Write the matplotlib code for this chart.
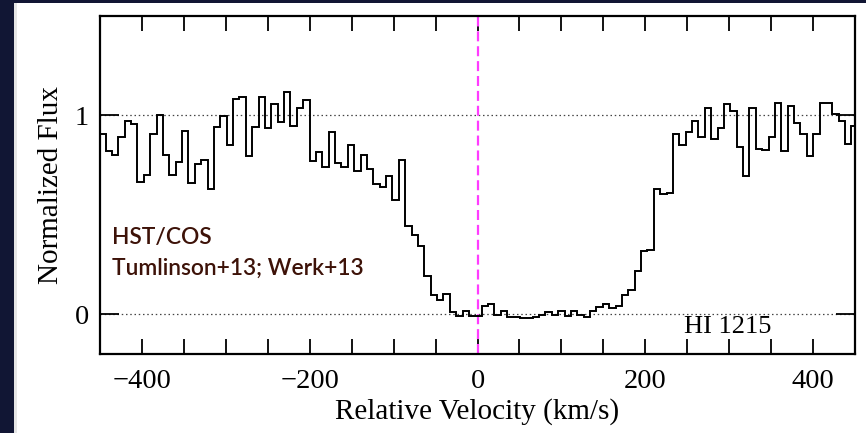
import numpy as np
import matplotlib
matplotlib.use("Agg")
import matplotlib.pyplot as plt
from matplotlib.patches import Rectangle
from matplotlib.ticker import MultipleLocator, FixedLocator

# HI 1215 absorption profile (normalized flux per velocity bin)
bin_start = -451.0     # km/s, left edge of first bin
bin_width = 7.6        # km/s
flux = [
    0.905, 0.821, 0.803, 0.892, 0.972, 0.958, 0.667, 0.702, 0.906, 1.002,
    0.801, 0.700, 0.766, 0.924, 0.661, 0.758, 0.778, 0.630, 0.944, 0.997,
    0.851, 1.082, 1.095, 0.796, 0.944, 1.095, 0.935, 1.056, 0.966, 1.116,
    0.947, 1.036, 1.078, 0.772, 0.816, 0.741, 0.918, 0.760, 0.741, 0.853,
    0.721, 0.802, 0.730, 0.654, 0.642, 0.697, 0.576, 0.777, 0.442, 0.401,
    0.344, 0.194, 0.097, 0.072, 0.100, 0.011, -0.010, 0.014, -0.010, -0.010,
    0.042, 0.050, -0.002, 0.015, -0.013, -0.013, -0.017, -0.017, -0.013, -0.005,
    0.012, -0.002, 0.015, -0.010, 0.015, -0.002, -0.013, 0.015, 0.037, 0.049,
    0.029, 0.042, 0.097, 0.122, 0.216, 0.317, 0.323, 0.629, 0.605, 0.608,
    0.908, 0.852, 0.919, 0.972, 0.889, 1.038, 0.879, 0.937, 1.056, 1.021,
    0.842, 0.697, 1.038, 0.833, 0.825, 0.892, 1.061, 0.822, 1.045, 0.961,
    0.904, 0.797, 0.904, 1.061, 1.061, 1.008, 0.971, 0.856, 0.947,
]

x_major_ticks = [-400, -200, 0, 200, 400]
x_tick_labels = ["\u2212400", "\u2212200", "0", "200", "400"]
y_ticks = [0, 1]
y_tick_labels = ["0", "1"]
line_label = "HI 1215"
source_lines = ["HST/COS", "Tumlinson+13; Werk+13"]

edges = bin_start + bin_width * np.arange(len(flux) + 1)

plt.rcParams["font.family"] = ["Liberation Serif", "DejaVu Serif"]

fig = plt.figure(figsize=(8.66, 4.33), dpi=100)
fig.patch.set_facecolor("white")

# dark slide frame along the left and top edges, with a faint shadow
navy = "#111634"
fig.patches.append(Rectangle((0, 0), 14 / 866, 1, transform=fig.transFigure,
                             facecolor=navy, edgecolor="none", zorder=0))
fig.patches.append(Rectangle((0, 1 - 3 / 433), 1, 3 / 433, transform=fig.transFigure,
                             facecolor=navy, edgecolor="none", zorder=0))
fig.patches.append(Rectangle((14 / 866, 0), 2.5 / 866, 1 - 3 / 433, transform=fig.transFigure,
                             facecolor="#e6e6e6", edgecolor="none", zorder=0))

ax = fig.add_axes([100 / 866, 1 - 354 / 433, 755 / 866, 338 / 433])

ax.stairs(flux, edges, color="black", linewidth=1.4, zorder=3)

# reference levels and line centre
for lev in (0, 1):
    ax.axhline(lev, color="#444444", linewidth=0.9, linestyle=(0, (1.2, 2.2)), zorder=1)
ax.axvline(0, color="#ff3cff", linewidth=1.6, linestyle=(0, (4.5, 2.2)), zorder=2)

ax.set_xlim(-450, 450)
ax.set_ylim(-0.2, 1.5)

ax.xaxis.set_major_locator(FixedLocator(x_major_ticks))
ax.xaxis.set_minor_locator(MultipleLocator(50))
ax.yaxis.set_major_locator(FixedLocator(y_ticks))
ax.set_yticklabels(y_tick_labels)
ax.set_xticklabels(x_tick_labels)

ax.tick_params(axis="both", which="both", direction="in", top=True, right=True,
               width=1.3, color="black")
ax.tick_params(axis="x", which="both", length=11)
ax.tick_params(axis="y", which="major", length=14)
ax.tick_params(axis="x", which="major", labelsize=20.5, pad=11)
ax.tick_params(axis="y", which="major", labelsize=20.5, pad=8)
for s in ax.spines.values():
    s.set_linewidth(1.6)

ax.set_xlabel("Relative Velocity (km/s)", fontsize=21, labelpad=3)
ax.set_ylabel("Normalized Flux", fontsize=21, labelpad=8)

ax.text(0.832, 0.08, line_label, transform=ax.transAxes, fontsize=19,
        ha="center", va="center")

txt_color = "#3d1208"
for frac_y, line in zip((0.345, 0.255), source_lines):
    ax.text(0.016, frac_y, line, transform=ax.transAxes, fontsize=16.4,
            family=["Lato", "DejaVu Sans"], fontweight="semibold",
            color=txt_color, ha="left", va="center")

fig.savefig("out.png", dpi=100, facecolor=fig.get_facecolor())
